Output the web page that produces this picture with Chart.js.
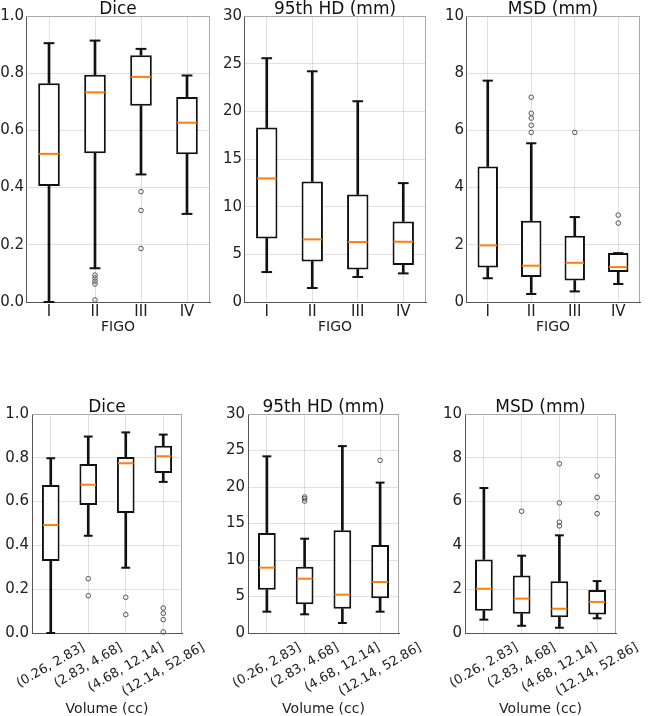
<!DOCTYPE html>
<html><head><meta charset="utf-8">
<script src="https://cdn.jsdelivr.net/npm/chart.js@4.4.1/dist/chart.umd.min.js"></script>
<style>
html,body{margin:0;padding:0;background:#fff;width:650px;height:716px;overflow:hidden;position:relative}
canvas{position:absolute;display:block}
</style></head><body>
<canvas id="c1" width="216" height="338" style="left:0px;top:-2px;width:216px;height:338px"></canvas>
<canvas id="c2" width="216" height="338" style="left:216px;top:-2px;width:216px;height:338px"></canvas>
<canvas id="c3" width="210" height="338" style="left:436px;top:-2px;width:210px;height:338px"></canvas>
<canvas id="c4" width="216" height="320" style="left:0px;top:396px;width:216px;height:320px"></canvas>
<canvas id="c5" width="216" height="320" style="left:216px;top:396px;width:216px;height:320px"></canvas>
<canvas id="c6" width="216" height="320" style="left:433px;top:396px;width:216px;height:320px"></canvas>
<script>
// ---- categories ----
const figoCats = ['I', 'II', 'III', 'IV'];
const volCats = ['(0.26, 2.83]', '(2.83, 4.68]', '(4.68, 12.14]', '(12.14, 52.86]'];

// ---- five-number summaries per category: [whiskerLow, q1, median, q3, whiskerHigh] ----
const diceFigo = [[0.0, 0.406, 0.518, 0.765, 0.905], [0.118, 0.520, 0.733, 0.795, 0.914], [0.446, 0.686, 0.787, 0.863, 0.885], [0.308, 0.517, 0.627, 0.717, 0.792]];
const diceFigoOut = [[], [0.094, 0.084, 0.073, 0.063, 0.007], [0.386, 0.320, 0.187], []];

const hdFigo = [[3.14, 6.67, 12.96, 18.30, 25.57], [1.47, 4.26, 6.57, 12.64, 24.2], [2.62, 3.42, 6.29, 11.28, 21.06], [3.00, 3.88, 6.32, 8.45, 12.47]];
const hdFigoOut = [[], [], [], []];

const msdFigo = [[0.83, 1.21, 1.98, 4.74, 7.74], [0.28, 0.87, 1.27, 2.84, 5.55], [0.37, 0.75, 1.37, 2.32, 2.97], [0.63, 1.05, 1.22, 1.71, 1.71]];
const msdFigoOut = [[], [7.16, 6.60, 6.43, 6.18, 5.93], [5.93], [3.04, 2.76]];

const diceVol = [[0.0, 0.329, 0.493, 0.676, 0.798], [0.444, 0.584, 0.677, 0.772, 0.897], [0.298, 0.548, 0.775, 0.804, 0.916], [0.690, 0.731, 0.807, 0.855, 0.906]];
const diceVolOut = [[], [0.248, 0.170], [0.163, 0.084], [0.114, 0.090, 0.061, 0.005]];

const hdVol = [[2.92, 5.94, 8.95, 13.7, 24.2], [2.56, 3.93, 7.44, 9.09, 12.92], [1.37, 3.33, 5.25, 14.06, 25.6], [2.92, 4.75, 6.99, 12.05, 20.6]];
const hdVolOut = [[], [18.63, 18.40, 18.08], [], [23.65]];

const msdVol = [[0.61, 1.02, 2.02, 3.36, 6.62], [0.33, 0.88, 1.57, 2.62, 3.53], [0.24, 0.72, 1.11, 2.36, 4.46], [0.67, 0.85, 1.42, 1.96, 2.37]];
const msdVolOut = [[], [5.56], [7.73, 5.94, 5.06, 4.89], [7.17, 6.19, 5.45]];

// ---- axis ticks ----
const diceTicks = { min: 0, max: 1, step: 0.2, digits: 1 };
const hdTicks = { min: 0, max: 30, step: 5, digits: 0 };
const msdTicks = { min: 0, max: 10, step: 2, digits: 0 };

Chart.defaults.font.family = '"DejaVu Sans", sans-serif';
Chart.defaults.color = '#222';

const BOX_FRAC = 0.47;
function boxWidthPx(c, n) {
  const a = c.chart.chartArea;
  if (!a) return 5;
  return (a.right - a.left) / n * BOX_FRAC;
}

const panelPlugin = {
  id: 'panelPlugin',
  afterDraw(chart) {
    const o = chart.options.plugins.panelPlugin;
    const ctx = chart.ctx, a = chart.chartArea;
    ctx.save();
    ctx.strokeStyle = '#aaaaaa';
    ctx.lineWidth = 1;
    ctx.beginPath();
    const t = Math.round(a.top) + 0.5, r = Math.round(a.right) - 0.5;
    ctx.moveTo(Math.round(a.left), t); ctx.lineTo(Math.round(a.right), t);
    ctx.moveTo(r, Math.round(a.top)); ctx.lineTo(r, Math.round(a.bottom));
    ctx.stroke();
    ctx.fillStyle = '#111';
    ctx.font = '17px "DejaVu Sans"';
    ctx.textAlign = 'center';
    ctx.textBaseline = 'alphabetic';
    ctx.fillText(o.title, (a.left + a.right) / 2, a.top - 2.5);
    if (o.rotLabels) {
      const xs = chart.scales.x;
      const fs = o.rotSize;
      ctx.font = fs + 'px "DejaVu Sans"';
      ctx.fillStyle = '#222';
      const th = 30 * Math.PI / 180;
      o.rotLabels.forEach((lab, i) => {
        const px = xs.getPixelForValue(i);
        const w = ctx.measureText(lab).width;
        const h = fs * 1.15;
        const bbH = w * Math.sin(th) + h * Math.cos(th);
        const cy = a.bottom + o.rotPad + bbH / 2;
        ctx.save();
        ctx.translate(px, cy);
        ctx.rotate(-th);
        ctx.textAlign = 'center';
        ctx.textBaseline = 'middle';
        ctx.fillText(lab, 0, 0);
        ctx.restore();
      });
    }
    ctx.restore();
  }
};

function makeBox(id, cats, stats, outs, tk, title, cfg) {
  const n = cats.length;
  const outliers = [];
  outs.forEach((arr, i) => arr.forEach(v => outliers.push({ x: cats[i], y: v })));
  const caps = [];
  stats.forEach((s, i) => { caps.push({ x: cats[i], y: s[0] }); caps.push({ x: cats[i], y: s[4] }); });
  const medians = stats.map((s, i) => ({ x: cats[i], y: s[2] }));

  new Chart(document.getElementById(id), {
    type: 'bar',
    data: {
      labels: cats,
      datasets: [
        { type: 'line', data: outliers, showLine: false, pointStyle: 'circle', pointRadius: 2.3,
          pointBorderColor: '#555', pointBorderWidth: 1, pointBackgroundColor: 'rgba(0,0,0,0)', order: 0, clip: false },
        { type: 'line', data: medians, showLine: false, pointStyle: 'line',
          pointRadius: c => boxWidthPx(c, n) / 2 - 1, pointBorderColor: '#ff7f0e', pointBorderWidth: 2, order: 1, clip: false },
        { type: 'line', data: caps, showLine: false, pointStyle: 'line',
          pointRadius: c => boxWidthPx(c, n) / 4, pointBorderColor: '#111', pointBorderWidth: 2, order: 2, clip: false },
        { type: 'bar', data: stats.map(s => [s[1], s[3]]), backgroundColor: '#ffffff', borderColor: '#111',
          borderWidth: 2, borderSkipped: false, barPercentage: BOX_FRAC, categoryPercentage: 1, grouped: false, order: 3 },
        { type: 'bar', data: stats.map(s => [s[0], s[1]]), backgroundColor: '#111', barThickness: 2, grouped: false, order: 4 },
        { type: 'bar', data: stats.map(s => [s[3], s[4]]), backgroundColor: '#111', barThickness: 2, grouped: false, order: 4 }
      ]
    },
    options: {
      responsive: false,
      animation: false,
      events: [],
      layout: { padding: { left: 0, right: cfg.padRight, top: 18, bottom: 0 } },
      plugins: {
        legend: { display: false }, tooltip: { enabled: false }, title: { display: false },
        panelPlugin: { title: title, rotLabels: cfg.rotate ? cats : null, rotSize: 13, rotPad: 7 }
      },
      scales: {
        x: {
          type: 'category', offset: true,
          grid: { offset: false, color: 'rgba(0,0,0,0.12)', drawTicks: false },
          border: { color: '#555', width: 1 },
          ticks: { display: !cfg.rotate, padding: 1, font: { size: 15 }, color: '#222', maxRotation: 0, autoSkip: false },
          title: { display: true, text: cfg.xTitle, font: { size: 14, lineHeight: 1 }, color: '#222', padding: { top: 0, bottom: cfg.xTitlePad } },
          afterFit: s => { s.height = cfg.xHeight; }
        },
        y: {
          type: 'linear', min: tk.min, max: tk.max,
          grid: { color: 'rgba(0,0,0,0.12)', drawTicks: false },
          border: { color: '#555', width: 1 },
          ticks: { stepSize: tk.step, padding: cfg.yPad, font: { size: 15 }, color: '#222',
            callback: v => Number(v).toFixed(tk.digits) },
          afterFit: s => { s.width = cfg.yWidth; }
        }
      }
    },
    plugins: [panelPlugin]
  });
}

const topCfg = (yw) => ({ padRight: 4, yWidth: yw, yPad: 2, xHeight: 34, xTitle: 'FIGO', xTitlePad: 2, rotate: false });
const botCfg = (yw, pr) => ({ padRight: pr, yWidth: yw, yPad: 3, xHeight: 83, xTitle: 'Volume (cc)', xTitlePad: 0, rotate: true });

makeBox('c1', figoCats, diceFigo, diceFigoOut, diceTicks, 'Dice', topCfg(26));
makeBox('c2', figoCats, hdFigo, hdFigoOut, hdTicks, '95th HD (mm)', topCfg(28));
makeBox('c3', figoCats, msdFigo, msdFigoOut, msdTicks, 'MSD (mm)', topCfg(30));
makeBox('c4', volCats, diceVol, diceVolOut, diceTicks, 'Dice', botCfg(32, 34));
makeBox('c5', volCats, hdVol, hdVolOut, hdTicks, '95th HD (mm)', botCfg(32, 33));
makeBox('c6', volCats, msdVol, msdVolOut, msdTicks, 'MSD (mm)', botCfg(32, 33));
</script>
</body></html>
